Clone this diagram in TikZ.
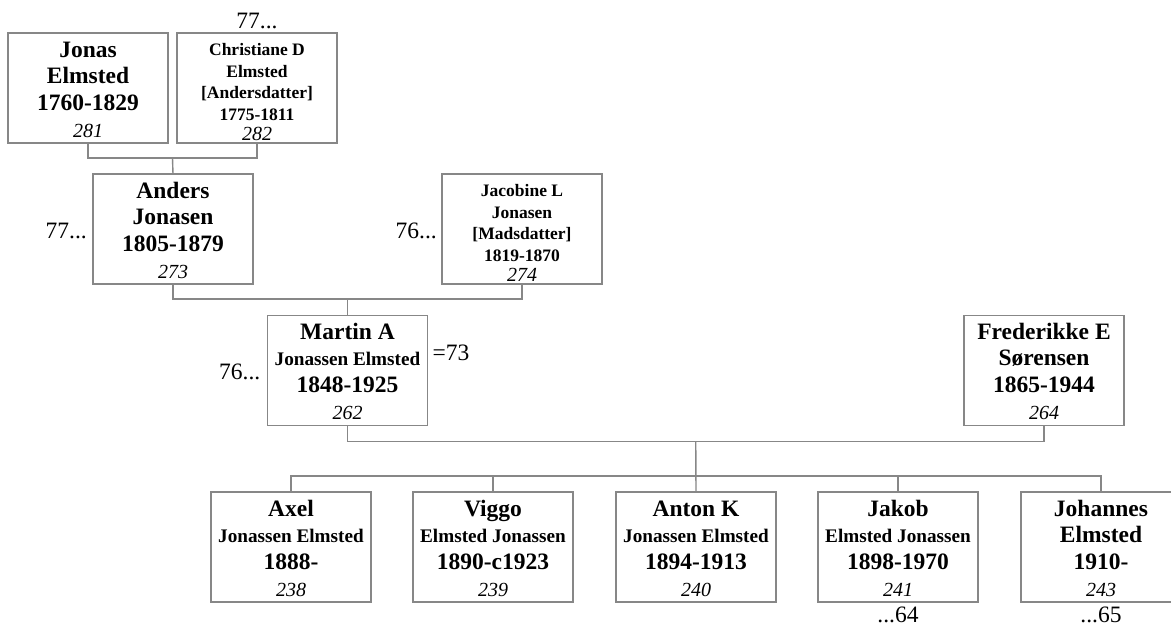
\documentclass[tikz,border=0pt]{standalone}
\usepackage{fontspec}
\setmainfont{Liberation Serif}
\usetikzlibrary{calc}
\definecolor{boxgray}{RGB}{135,135,135}
\newcommand\famline[5]{\node[anchor=base,#3] (#1) at ([yshift=-#4pt]#2.north) {#5};}
\tikzset{
  person/.style={draw=boxgray, line width=1.4pt, minimum width=160pt, minimum height=110pt, inner sep=0pt, outer sep=0pt, fill=white},
  conn/.style={draw=boxgray, line width=1.4pt},
  bignm/.style={font=\fontsize{23.5}{26}\selectfont\bfseries, inner sep=0pt},
  midnm/.style={font=\fontsize{19.2}{22}\selectfont\bfseries, inner sep=0pt},
  smallnm/.style={font=\fontsize{17.5}{21}\selectfont\bfseries, inner sep=0pt},
  numit/.style={font=\fontsize{20}{22}\selectfont\itshape, inner sep=0pt},
  ann/.style={font=\fontsize{23.5}{25}\selectfont, inner sep=0pt}
}
\begin{document}
\begin{tikzpicture}[x=1pt,y=-1pt]
\clip (0,0) rectangle (1171,627);
\fill[white] (0,0) rectangle (1171,627);
% boxes
\node[person] (jonas) at (88,88) {};
\node[person] (christiane) at (257,88) {};
\node[person] (anders) at (173,229) {};
\node[person] (jacobine) at (522,229) {};
\node[person] (martin) at (347.5,370.5) {};
\node[person] (frederikke) at (1044,370.5) {};
\node[person] (axel) at (291,547) {};
\node[person] (viggo) at (493,547) {};
\node[person] (anton) at (696,547) {};
\node[person] (jakob) at (898,547) {};
\node[person] (johannes) at (1101,547) {};
% connectors
\coordinate (u1) at ($(jonas.south)!0.5!(christiane.south)+(0,15)$);
\draw[conn] (jonas.south) |- (u1) -| (christiane.south);
\draw[conn] (u1) -- (anders.north);
\coordinate (u2) at ($(anders.south)!0.5!(jacobine.south)+(0,15)$);
\draw[conn] (anders.south) |- (u2) -| (jacobine.south);
\draw[conn] (u2) -- (martin.north);
\coordinate (u3) at ($(martin.south)!0.5!(frederikke.south)+(0,16)$);
\draw[conn] (martin.south) |- (u3) -| (frederikke.south);
\coordinate (cbar) at ($(axel.north)+(0,-16)$);
\draw[conn] (axel.north) |- (cbar) -| (johannes.north);
\draw[conn] (u3) -- (anton.north);
\draw[conn] (viggo.north) -- ++(0,-16);
\draw[conn] (jakob.north) -- ++(0,-16);
% texts
\famline{jonasA}{jonas}{bignm}{24}{Jonas}
\famline{jonasB}{jonas}{bignm}{50}{Elmsted}
\famline{jonasC}{jonas}{bignm}{77}{1760-1829}
\famline{jonasD}{jonas}{numit}{104}{281}
\famline{chrA}{christiane}{smallnm}{22.5}{Christiane D}
\famline{chrB}{christiane}{smallnm}{44}{Elmsted}
\famline{chrC}{christiane}{smallnm}{65.5}{[Andersdatter]}
\famline{chrD}{christiane}{smallnm}{87}{1775-1811}
\famline{chrE}{christiane}{numit}{107}{282}
\famline{andA}{anders}{bignm}{24}{Anders}
\famline{andB}{anders}{bignm}{50}{Jonasen}
\famline{andC}{anders}{bignm}{77}{1805-1879}
\famline{andD}{anders}{numit}{104}{273}
\famline{jacA}{jacobine}{smallnm}{22.5}{Jacobine L}
\famline{jacB}{jacobine}{smallnm}{44}{Jonasen}
\famline{jacC}{jacobine}{smallnm}{65.5}{[Madsdatter]}
\famline{jacD}{jacobine}{smallnm}{87}{1819-1870}
\famline{jacE}{jacobine}{numit}{107}{274}
\famline{marA}{martin}{bignm}{24}{Martin A}
\famline{marB}{martin}{midnm}{50}{Jonassen Elmsted}
\famline{marC}{martin}{bignm}{77}{1848-1925}
\famline{marD}{martin}{numit}{104}{262}
\famline{freA}{frederikke}{bignm}{24}{Frederikke E}
\famline{freB}{frederikke}{bignm}{50}{Sørensen}
\famline{freC}{frederikke}{bignm}{77}{1865-1944}
\famline{freD}{frederikke}{numit}{104}{264}
\famline{axeA}{axel}{bignm}{24}{Axel}
\famline{axeB}{axel}{midnm}{50}{Jonassen Elmsted}
\famline{axeC}{axel}{bignm}{77}{1888-}
\famline{axeD}{axel}{numit}{104}{238}
\famline{vigA}{viggo}{bignm}{24}{Viggo}
\famline{vigB}{viggo}{midnm}{50}{Elmsted Jonassen}
\famline{vigC}{viggo}{bignm}{77}{1890-c1923}
\famline{vigD}{viggo}{numit}{104}{239}
\famline{antA}{anton}{bignm}{24}{Anton K}
\famline{antB}{anton}{midnm}{50}{Jonassen Elmsted}
\famline{antC}{anton}{bignm}{77}{1894-1913}
\famline{antD}{anton}{numit}{104}{240}
\famline{jakA}{jakob}{bignm}{24}{Jakob}
\famline{jakB}{jakob}{midnm}{50}{Elmsted Jonassen}
\famline{jakC}{jakob}{bignm}{77}{1898-1970}
\famline{jakD}{jakob}{numit}{104}{241}
\famline{johA}{johannes}{bignm}{24}{Johannes}
\famline{johB}{johannes}{bignm}{50}{Elmsted}
\famline{johC}{johannes}{bignm}{77}{1910-}
\famline{johD}{johannes}{numit}{104}{243}
% annotations
\node[ann,anchor=base] (a1) at ([yshift=5pt]christiane.north) {77...};
\node[ann,anchor=base east] (a2) at ([xshift=-6pt,yshift=-64pt]anders.north west) {77...};
\node[ann,anchor=base east] (a3) at ([xshift=-5pt,yshift=-64pt]jacobine.north west) {76...};
\node[ann,anchor=base east] (a4) at ([xshift=-7pt,yshift=-64pt]martin.north west) {76...};
\node[ann,anchor=base west] (a5) at ([xshift=5pt,yshift=-45pt]martin.north east) {=73};
\node[ann,anchor=base] (a6) at ([yshift=-20pt]jakob.south) {...64};
\node[ann,anchor=base] (a7) at ([yshift=-20pt]johannes.south) {...65};
\end{tikzpicture}
\end{document}
